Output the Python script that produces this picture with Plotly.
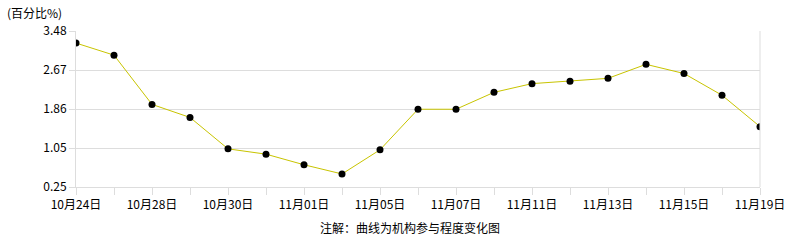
import plotly.graph_objects as go

dates = ["10月24日", "10月25日", "10月28日", "10月29日", "10月30日", "10月31日",
         "11月01日", "11月04日", "11月05日", "11月06日", "11月07日", "11月08日",
         "11月11日", "11月12日", "11月13日", "11月14日", "11月15日", "11月18日",
         "11月19日"]
values = [3.23, 2.98, 1.96, 1.69, 1.04, 0.93, 0.71, 0.52, 1.02, 1.86, 1.86,
          2.21, 2.39, 2.44, 2.50, 2.79, 2.60, 2.15, 1.50]
tick_labels = [d if i % 2 == 0 else "" for i, d in enumerate(dates)]
y_ticks = [0.25, 1.0575, 1.865, 2.6725, 3.48]
y_tick_text = ["0.25", "1.05", "1.86", "2.67", "3.48"]

FONT = "SimSun, 'Noto Sans CJK SC', sans-serif"

fig = go.Figure()
fig.add_trace(go.Scatter(
    x=dates, y=values, mode="lines+markers",
    line=dict(color="#c8c400", width=1),
    marker=dict(color="black", size=7),
    hoverinfo="skip", showlegend=False,
))

fig.update_layout(
    width=786, height=240,
    margin=dict(l=76, r=26, t=31, b=53),
    paper_bgcolor="white", plot_bgcolor="white",
    font=dict(family=FONT, size=12, color="black"),
    xaxis=dict(
        type="category", range=[0, len(dates) - 1], automargin=False,
        tickmode="array", tickvals=dates, ticktext=tick_labels,
        ticks="outside", ticklen=7, tickcolor="#dddddd", tickwidth=1,
        showgrid=False, showline=True, linecolor="#dddddd", linewidth=1,
        mirror=False, zeroline=False, tickangle=0,
    ),
    yaxis=dict(
        range=[0.25, 3.48], tickmode="array", tickvals=y_ticks, ticktext=y_tick_text,
        automargin=False,
        ticks="outside", ticklen=6, tickcolor="#dddddd",
        showgrid=True, gridcolor="#dddddd", gridwidth=1,
        showline=True, linecolor="#dddddd", linewidth=1, zeroline=False,
    ),
    annotations=[
        dict(text="(百分比%)", xref="paper", yref="paper", x=-76/684, y=1 + 19/156,
             xanchor="left", yanchor="middle", showarrow=False,
             font=dict(family=FONT, size=12, color="black"), xshift=5),
        dict(text="注解：曲线为机构参与程度变化图", xref="paper", yref="paper",
             x=(410-76)/684, y=-(227-187)/156, xanchor="center", yanchor="middle",
             showarrow=False, font=dict(family=FONT, size=12, color="black")),
    ],
    shapes=[
        dict(type="line", xref="paper", yref="paper", x0=1, x1=1, y0=0, y1=1,
             line=dict(color="#dddddd", width=1)),
    ],
)

fig.write_html("out.html")
